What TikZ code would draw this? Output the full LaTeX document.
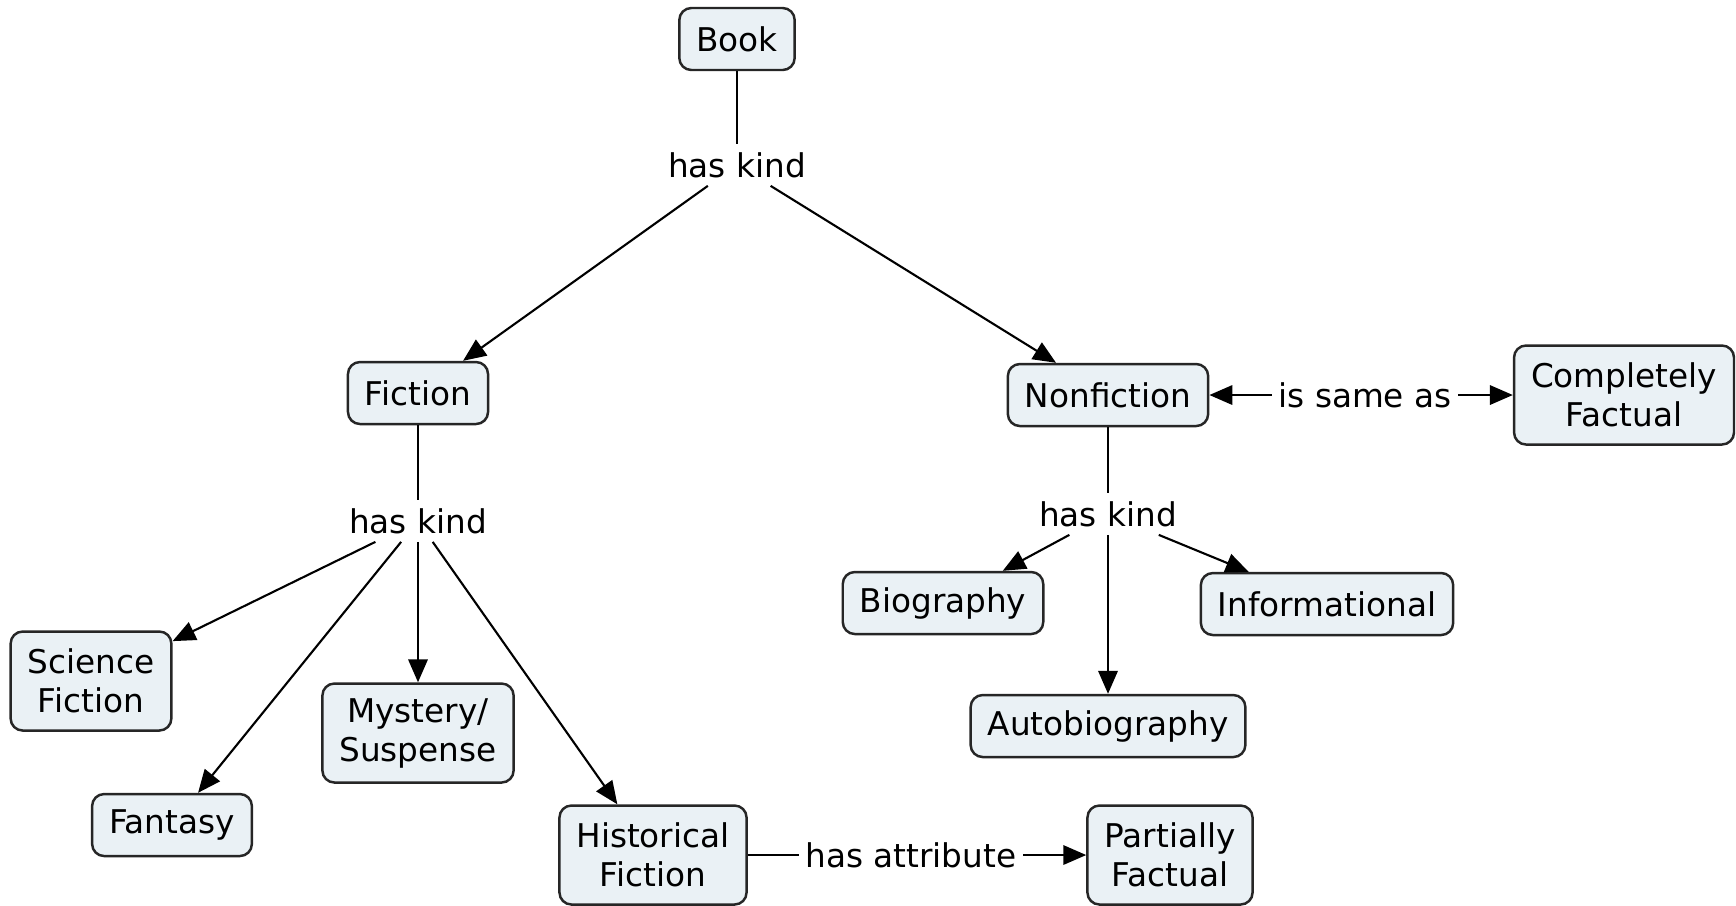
\documentclass[tikz,border=0pt]{standalone}
\usepackage{fontspec}
\setmainfont{DejaVu Sans}
\usetikzlibrary{arrows.meta}
\definecolor{conceptfill}{RGB}{234,241,245}
\tikzset{
  concept/.style={draw=black!85,fill=conceptfill,rounded corners=0.12cm,line width=0.7pt,
    inner xsep=0.17cm,inner ysep=0.12cm,minimum height=0.62cm,align=center,
    font=\fontsize{9.3}{11.1}\selectfont},
  twoline/.style={concept,minimum height=0.99cm},
  linkword/.style={fill=white,inner xsep=0.06cm,inner ysep=0.075cm,font=\fontsize{9.3}{11.1}\selectfont},
  link/.style={line width=0.6pt},
  linkarrow/.style={link,-{Triangle[length=6.5pt,width=5.5pt]}}
}
\begin{document}
\begin{tikzpicture}
  \useasboundingbox (0,0) rectangle (17.36,-9.05);

  \node [concept] (book) at (7.37,-0.39) {Book};
  \node [linkword] (hkbook) at (7.37,-1.65) {has kind};
  \node [concept] (fiction) at (4.18,-3.93) {Fiction};
  \node [concept] (nonfiction) at (11.08,-3.95) {Nonfiction};
  \node [linkword] (issame) at (13.65,-3.95) {is same as};
  \node [twoline] (complete) at (16.24,-3.95) {Completely\\Factual};

  \node [linkword] (hkfiction) at (4.18,-5.21) {has kind};
  \node [twoline] (scifi) at (0.91,-6.81) {Science\\Fiction};
  \node [concept] (fantasy) at (1.72,-8.25) {Fantasy};
  \node [twoline] (mystery) at (4.18,-7.33) {Mystery/\\Suspense};
  \node [twoline] (historical) at (6.53,-8.55) {Historical\\Fiction};
  \node [linkword] (hasattr) at (9.11,-8.55) {has attribute};
  \node [twoline] (partial) at (11.70,-8.55) {Partially\\Factual};

  \node [linkword] (hknonfiction) at (11.08,-5.14) {has kind};
  \node [concept] (biography) at (9.43,-6.03) {Biography};
  \node [concept] (informational) at (13.27,-6.04) {Informational};
  \node [concept] (autobio) at (11.08,-7.26) {Autobiography};

  \draw [link] (book) -- (hkbook);
  \draw [linkarrow] (hkbook) -- (fiction);
  \draw [linkarrow] (hkbook) -- (nonfiction);
  \draw [linkarrow] (issame) -- (nonfiction);
  \draw [linkarrow] (issame) -- (complete);

  \draw [link] (fiction) -- (hkfiction);
  \draw [linkarrow] (hkfiction) -- (scifi);
  \draw [linkarrow] (hkfiction) -- (fantasy);
  \draw [linkarrow] (hkfiction) -- (mystery);
  \draw [linkarrow] (hkfiction) -- (historical);
  \draw [link] (historical) -- (hasattr);
  \draw [linkarrow] (hasattr) -- (partial);

  \draw [link] (nonfiction) -- (hknonfiction);
  \draw [linkarrow] (hknonfiction) -- (biography);
  \draw [linkarrow] (hknonfiction) -- (informational);
  \draw [linkarrow] (hknonfiction) -- (autobio);
\end{tikzpicture}
\end{document}
